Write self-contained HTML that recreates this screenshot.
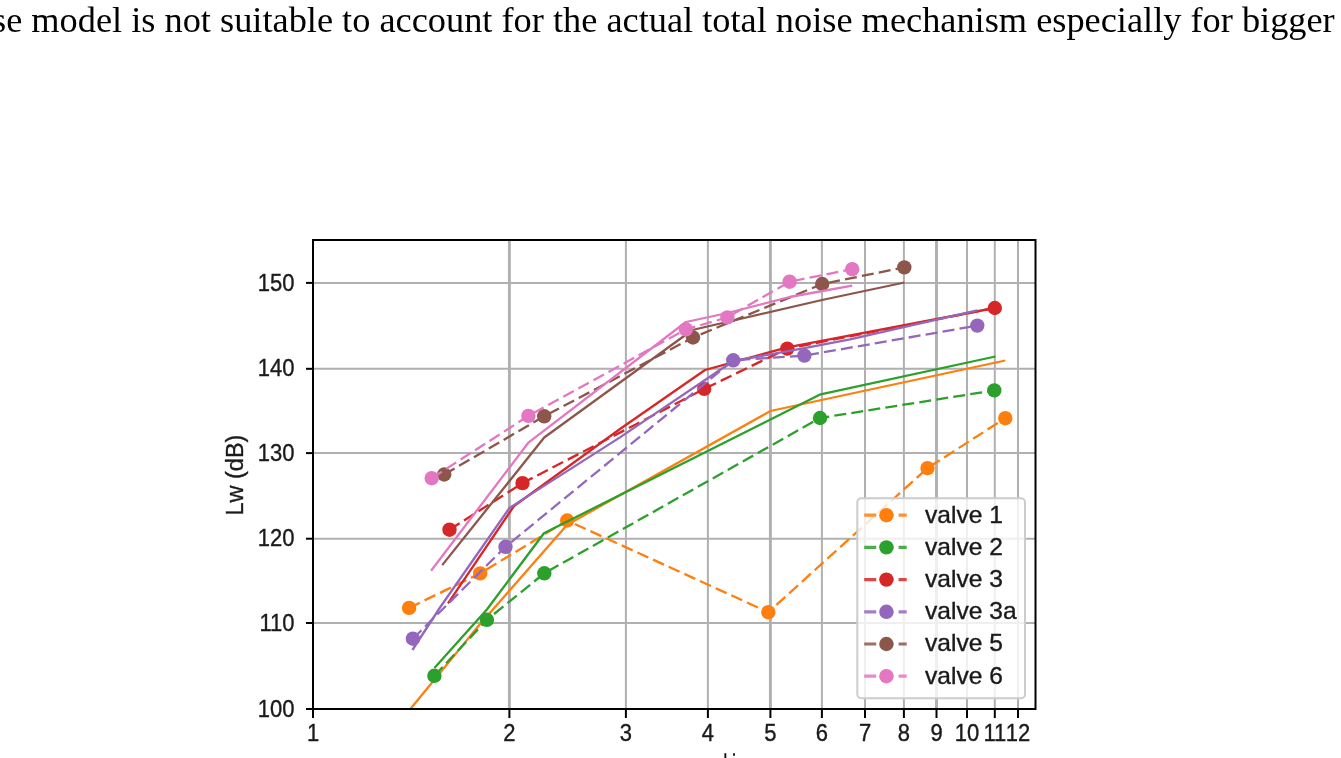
<!DOCTYPE html>
<html><head><meta charset="utf-8"><title>chart</title>
<style>
html,body{margin:0;padding:0;background:#fff;-webkit-font-smoothing:antialiased;}
body{width:1341px;height:758px;overflow:hidden;position:relative;}
.txt{will-change:transform;position:absolute;left:-3px;top:0;white-space:nowrap;font-family:"Liberation Serif",serif;font-size:36.35px;line-height:40px;color:#000;}
</style></head><body>
<div class="txt" style="top:0px;left:-8px">se model is not suitable to account for the actual total noise mechanism especially for bigger</div>
<svg width="1341" height="758" viewBox="0 0 1341 758" style="position:absolute;left:0;top:0">
<defs><clipPath id="ax"><rect x="313.0" y="240.0" width="722.5" height="469.0"/></clipPath></defs>
<g stroke="#b0b0b0" stroke-width="2"><line x1="509.4" y1="240.0" x2="509.4" y2="709.0" stroke-width="2.9"/><line x1="625.9" y1="240.0" x2="625.9" y2="709.0"/><line x1="707.9" y1="240.0" x2="707.9" y2="709.0"/><line x1="770.4" y1="240.0" x2="770.4" y2="709.0" stroke-width="2.9"/><line x1="821.9" y1="240.0" x2="821.9" y2="709.0"/><line x1="865.0" y1="240.0" x2="865.0" y2="709.0"/><line x1="903.9" y1="240.0" x2="903.9" y2="709.0"/><line x1="936.5" y1="240.0" x2="936.5" y2="709.0" stroke-width="2.9"/><line x1="967.0" y1="240.0" x2="967.0" y2="709.0"/><line x1="994.8" y1="240.0" x2="994.8" y2="709.0"/><line x1="1018.0" y1="240.0" x2="1018.0" y2="709.0"/><line x1="313.0" y1="623.0" x2="1035.5" y2="623.0"/><line x1="313.0" y1="538.7" x2="1035.5" y2="538.7"/><line x1="313.0" y1="453.1" x2="1035.5" y2="453.1"/><line x1="313.0" y1="368.8" x2="1035.5" y2="368.8"/><line x1="313.0" y1="282.9" x2="1035.5" y2="282.9"/></g>
<g clip-path="url(#ax)" fill="none" stroke-width="2.3" stroke-linejoin="round"><polyline points="409.1,607.9 480.2,573.4 567.2,520.5 768.3,612.2 927.5,468.1 1005.3,418.2" stroke="#ff7f0e" stroke-dasharray="12,5.2"/><circle cx="409.1" cy="607.9" r="7.2" fill="#ff7f0e" stroke="none"/><circle cx="480.2" cy="573.4" r="7.2" fill="#ff7f0e" stroke="none"/><circle cx="567.2" cy="520.5" r="7.2" fill="#ff7f0e" stroke="none"/><circle cx="768.3" cy="612.2" r="7.2" fill="#ff7f0e" stroke="none"/><circle cx="927.5" cy="468.1" r="7.2" fill="#ff7f0e" stroke="none"/><circle cx="1005.3" cy="418.2" r="7.2" fill="#ff7f0e" stroke="none"/><polyline points="409.1,710.5 479.7,624.6 567.2,524.7 770.4,411.0 1005.3,360.5" stroke="#ff7f0e"/><polyline points="434.4,675.8 486.9,619.8 544.3,573.3 820.0,418.0 994.3,390.4" stroke="#2ca02c" stroke-dasharray="12,5.2"/><circle cx="434.4" cy="675.8" r="7.2" fill="#2ca02c" stroke="none"/><circle cx="486.9" cy="619.8" r="7.2" fill="#2ca02c" stroke="none"/><circle cx="544.3" cy="573.3" r="7.2" fill="#2ca02c" stroke="none"/><circle cx="820.0" cy="418.0" r="7.2" fill="#2ca02c" stroke="none"/><circle cx="994.3" cy="390.4" r="7.2" fill="#2ca02c" stroke="none"/><polyline points="434.4,668.0 486.9,609.5 543.9,533.2 820.6,394.3 995.4,356.5" stroke="#2ca02c"/><polyline points="449.5,529.7 522.5,483.1 704.2,388.9 787.3,348.6 994.8,308.0" stroke="#d62728" stroke-dasharray="12,5.2"/><circle cx="449.5" cy="529.7" r="7.2" fill="#d62728" stroke="none"/><circle cx="522.5" cy="483.1" r="7.2" fill="#d62728" stroke="none"/><circle cx="704.2" cy="388.9" r="7.2" fill="#d62728" stroke="none"/><circle cx="787.3" cy="348.6" r="7.2" fill="#d62728" stroke="none"/><circle cx="994.8" cy="308.0" r="7.2" fill="#d62728" stroke="none"/><polyline points="448.0,603.3 514.0,506.0 620.0,429.0 705.0,370.0 787.3,347.3 994.8,308.0" stroke="#d62728"/><polyline points="412.9,638.7 505.5,546.8 733.2,360.3 804.4,355.6 977.3,325.6" stroke="#9467bd" stroke-dasharray="12,5.2"/><circle cx="412.9" cy="638.7" r="7.2" fill="#9467bd" stroke="none"/><circle cx="505.5" cy="546.8" r="7.2" fill="#9467bd" stroke="none"/><circle cx="733.2" cy="360.3" r="7.2" fill="#9467bd" stroke="none"/><circle cx="804.4" cy="355.6" r="7.2" fill="#9467bd" stroke="none"/><circle cx="977.3" cy="325.6" r="7.2" fill="#9467bd" stroke="none"/><polyline points="412.4,650.0 440.0,607.5 509.5,507.9 620.0,437.4 733.2,361.0 804.4,348.2 850.0,339.3 977.3,310.4" stroke="#9467bd"/><polyline points="444.2,474.5 544.2,416.3 693.0,337.5 822.2,284.0 904.3,267.4" stroke="#8c564b" stroke-dasharray="12,5.2"/><circle cx="444.2" cy="474.5" r="7.2" fill="#8c564b" stroke="none"/><circle cx="544.2" cy="416.3" r="7.2" fill="#8c564b" stroke="none"/><circle cx="693.0" cy="337.5" r="7.2" fill="#8c564b" stroke="none"/><circle cx="822.2" cy="284.0" r="7.2" fill="#8c564b" stroke="none"/><circle cx="904.3" cy="267.4" r="7.2" fill="#8c564b" stroke="none"/><polyline points="442.2,565.1 544.2,437.5 692.3,330.0 822.0,300.0 904.5,282.5" stroke="#8c564b"/><polyline points="431.7,478.2 528.4,415.9 685.9,329.4 727.4,317.4 789.6,281.7 852.2,269.2" stroke="#e377c2" stroke-dasharray="12,5.2"/><circle cx="431.7" cy="478.2" r="7.2" fill="#e377c2" stroke="none"/><circle cx="528.4" cy="415.9" r="7.2" fill="#e377c2" stroke="none"/><circle cx="685.9" cy="329.4" r="7.2" fill="#e377c2" stroke="none"/><circle cx="727.4" cy="317.4" r="7.2" fill="#e377c2" stroke="none"/><circle cx="789.6" cy="281.7" r="7.2" fill="#e377c2" stroke="none"/><circle cx="852.2" cy="269.2" r="7.2" fill="#e377c2" stroke="none"/><polyline points="431.1,570.7 528.7,442.3 685.9,322.0 727.4,313.0 789.6,297.0 852.2,285.6" stroke="#e377c2"/></g>
<rect x="313.0" y="240.0" width="722.5" height="469.0" fill="none" stroke="#000" stroke-width="2"/>
<g stroke="#000" stroke-width="2"><line x1="313.0" y1="709.0" x2="313.0" y2="718.0"/><line x1="509.4" y1="709.0" x2="509.4" y2="718.0"/><line x1="625.9" y1="709.0" x2="625.9" y2="718.0"/><line x1="707.9" y1="709.0" x2="707.9" y2="718.0"/><line x1="770.4" y1="709.0" x2="770.4" y2="718.0"/><line x1="821.9" y1="709.0" x2="821.9" y2="718.0"/><line x1="865.0" y1="709.0" x2="865.0" y2="718.0"/><line x1="903.9" y1="709.0" x2="903.9" y2="718.0"/><line x1="936.5" y1="709.0" x2="936.5" y2="718.0"/><line x1="967.0" y1="709.0" x2="967.0" y2="718.0"/><line x1="994.8" y1="709.0" x2="994.8" y2="718.0"/><line x1="1018.0" y1="709.0" x2="1018.0" y2="718.0"/><line x1="306.0" y1="709.0" x2="313.0" y2="709.0"/><line x1="306.0" y1="623.0" x2="313.0" y2="623.0"/><line x1="306.0" y1="538.7" x2="313.0" y2="538.7"/><line x1="306.0" y1="453.1" x2="313.0" y2="453.1"/><line x1="306.0" y1="368.8" x2="313.0" y2="368.8"/><line x1="306.0" y1="282.9" x2="313.0" y2="282.9"/></g>
<g font-family="Liberation Sans, sans-serif" font-size="22" fill="#1a1a1a" stroke="#1a1a1a" stroke-width="0.35"><text transform="translate(313.0,740.5) scale(1,1.1)" text-anchor="middle">1</text><text transform="translate(509.4,740.5) scale(1,1.1)" text-anchor="middle">2</text><text transform="translate(625.9,740.5) scale(1,1.1)" text-anchor="middle">3</text><text transform="translate(707.9,740.5) scale(1,1.1)" text-anchor="middle">4</text><text transform="translate(770.4,740.5) scale(1,1.1)" text-anchor="middle">5</text><text transform="translate(821.9,740.5) scale(1,1.1)" text-anchor="middle">6</text><text transform="translate(865.0,740.5) scale(1,1.1)" text-anchor="middle">7</text><text transform="translate(903.9,740.5) scale(1,1.1)" text-anchor="middle">8</text><text transform="translate(936.5,740.5) scale(1,1.1)" text-anchor="middle">9</text><text transform="translate(967.0,740.5) scale(1,1.1)" text-anchor="middle">10</text><text transform="translate(994.8,740.5) scale(1,1.1)" text-anchor="middle">11</text><text transform="translate(1018.0,740.5) scale(1,1.1)" text-anchor="middle">12</text><text transform="translate(294.5,716.6) scale(1,1.1)" text-anchor="end">100</text><text transform="translate(294.5,630.6) scale(1,1.1)" text-anchor="end">110</text><text transform="translate(294.5,546.3) scale(1,1.1)" text-anchor="end">120</text><text transform="translate(294.5,460.7) scale(1,1.1)" text-anchor="end">130</text><text transform="translate(294.5,376.4) scale(1,1.1)" text-anchor="end">140</text><text transform="translate(294.5,290.5) scale(1,1.1)" text-anchor="end">150</text><text transform="translate(242.5,475.1) rotate(-90)" text-anchor="middle" font-size="23" textLength="81" lengthAdjust="spacingAndGlyphs">Lw (dB)</text></g>
<g><rect x="857.3" y="498.3" width="167.7" height="200" rx="4" ry="4" fill="#fff" fill-opacity="0.8" stroke="#cccccc" stroke-width="2"/><line x1="864.2" y1="515.2" x2="906.7" y2="515.2" stroke="#ff7f0e" stroke-width="3.2" stroke-dasharray="12,5.2" stroke-opacity="0.85"/><circle cx="886.4" cy="515.2" r="7.2" fill="#ff7f0e"/><text transform="translate(925,522.6) scale(1.07,1.0)" font-family="Liberation Sans, sans-serif" font-size="23" fill="#1a1a1a" stroke="#1a1a1a" stroke-width="0.35">valve 1</text><line x1="864.2" y1="547.4" x2="906.7" y2="547.4" stroke="#2ca02c" stroke-width="3.2" stroke-dasharray="12,5.2" stroke-opacity="0.85"/><circle cx="886.4" cy="547.4" r="7.2" fill="#2ca02c"/><text transform="translate(925,554.8) scale(1.07,1.0)" font-family="Liberation Sans, sans-serif" font-size="23" fill="#1a1a1a" stroke="#1a1a1a" stroke-width="0.35">valve 2</text><line x1="864.2" y1="579.6" x2="906.7" y2="579.6" stroke="#d62728" stroke-width="3.2" stroke-dasharray="12,5.2" stroke-opacity="0.85"/><circle cx="886.4" cy="579.6" r="7.2" fill="#d62728"/><text transform="translate(925,587.0) scale(1.07,1.0)" font-family="Liberation Sans, sans-serif" font-size="23" fill="#1a1a1a" stroke="#1a1a1a" stroke-width="0.35">valve 3</text><line x1="864.2" y1="611.8" x2="906.7" y2="611.8" stroke="#9467bd" stroke-width="3.2" stroke-dasharray="12,5.2" stroke-opacity="0.85"/><circle cx="886.4" cy="611.8" r="7.2" fill="#9467bd"/><text transform="translate(925,619.2) scale(1.07,1.0)" font-family="Liberation Sans, sans-serif" font-size="23" fill="#1a1a1a" stroke="#1a1a1a" stroke-width="0.35">valve 3a</text><line x1="864.2" y1="644.0" x2="906.7" y2="644.0" stroke="#8c564b" stroke-width="3.2" stroke-dasharray="12,5.2" stroke-opacity="0.85"/><circle cx="886.4" cy="644.0" r="7.2" fill="#8c564b"/><text transform="translate(925,651.4) scale(1.07,1.0)" font-family="Liberation Sans, sans-serif" font-size="23" fill="#1a1a1a" stroke="#1a1a1a" stroke-width="0.35">valve 5</text><line x1="864.2" y1="676.2" x2="906.7" y2="676.2" stroke="#e377c2" stroke-width="3.2" stroke-dasharray="12,5.2" stroke-opacity="0.85"/><circle cx="886.4" cy="676.2" r="7.2" fill="#e377c2"/><text transform="translate(925,683.6) scale(1.07,1.0)" font-family="Liberation Sans, sans-serif" font-size="23" fill="#1a1a1a" stroke="#1a1a1a" stroke-width="0.35">valve 6</text></g>
<rect x="724.4" y="753.2" width="1.9" height="5" fill="#111"/><rect x="733.1" y="753.2" width="1.9" height="2.6" fill="#222"/>
</svg>
</body></html>
